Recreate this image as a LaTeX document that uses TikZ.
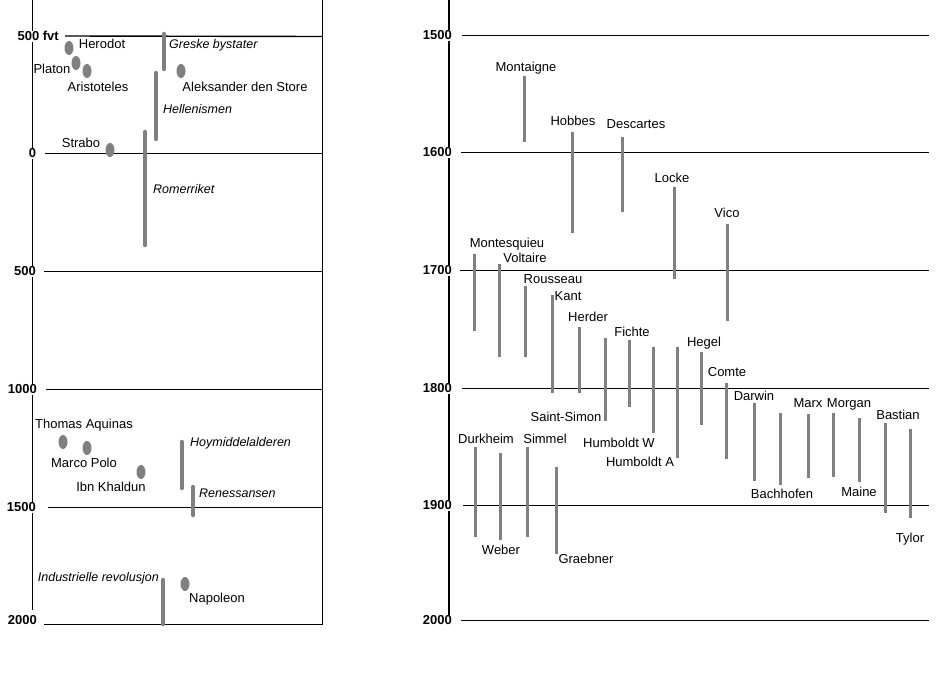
\documentclass[tikz,border=0pt]{standalone}
\usepackage{fontspec}
\setmainfont{Liberation Sans}
\definecolor{bargray}{HTML}{808080}
\begin{document}
\begin{tikzpicture}[x=1pt,y=-1pt,
  txt/.style={font=\fontsize{13}{15}\selectfont, inner sep=0pt, text height=9pt, text depth=0pt},
  itxt/.style={font=\fontsize{12.5}{14}\selectfont\itshape, inner sep=0pt, text height=9pt, text depth=0pt},
  axlab/.style={font=\fontsize{13}{15}\selectfont\bfseries, fill=white, inner sep=1pt, text height=9pt, text depth=0pt, anchor=east},
  axline/.style={line width=1.4pt, black},
  vaxis/.style={line width=1.6pt, black},
  lbar/.style={draw=bargray, line width=4.5pt, line cap=round},
  rbar/.style={draw=bargray, line width=3pt},
  dotmark/.style={fill=bargray}]
\useasboundingbox (0,0) rectangle (939,672);

% ---------------- left panel ----------------
\draw[vaxis] (322.5,0) -- (322.5,625);
\coordinate (LA0) at (32.5,0);
\coordinate (LA1) at (32.5,610);
\draw[vaxis] (LA0) -- (LA1);
\node[axlab] (L1) at (60,36) {500 fvt};
\node[axlab, anchor=center] (L2) at (32.5,153) {0};
\node[axlab] (L3) at (37,271) {500};
\node[axlab] (L4) at (38,389) {1000};
\node[axlab] (L5) at (37,507) {1500};
\node[axlab] (L6) at (38,620) {2000};
\draw[axline] ([xshift=5pt]L1.east) -- (322.5,36.5);
\draw[axline] (45,153.5) -- (322.5,153.5);
\draw[axline] (44,271.5) -- (322.5,271.5);
\draw[axline] (46,389.5) -- (322.5,389.5);
\draw[axline] (48,507.5) -- (322.5,507.5);
\draw[axline] (44,624.5) -- (322.5,624.5);

% bars
\draw[lbar] (164,34) -- (164,69);
\draw[lbar] (156,73) -- (156,139);
\draw[lbar] (145,132) -- (145,245);
\draw[lbar] (182,442) -- (182,488);
\draw[lbar] (193,487) -- (193,515);
\draw[lbar] (163,580) -- (163,624);

% dots
\fill[dotmark] (69,48) ellipse [x radius=4.5pt, y radius=7pt];
\fill[dotmark] (76,63) ellipse [x radius=4.5pt, y radius=7pt];
\fill[dotmark] (87,71) ellipse [x radius=4.5pt, y radius=7pt];
\fill[dotmark] (181,71) ellipse [x radius=4.5pt, y radius=7pt];
\fill[dotmark] (110,150) ellipse [x radius=4.5pt, y radius=7pt];
\fill[dotmark] (63,442) ellipse [x radius=4.5pt, y radius=7pt];
\fill[dotmark] (87,448) ellipse [x radius=4.5pt, y radius=7pt];
\fill[dotmark] (141,472) ellipse [x radius=4.5pt, y radius=7pt];
\fill[dotmark] (185,584) ellipse [x radius=4.5pt, y radius=7pt];

% labels
\node[txt] (herodot) at (102,44) {Herodot};
\node[txt] (platon) at (52,69) {Platon};
\node[txt] (aristoteles) at (98,87) {Aristoteles};
\node[txt] (aleksander) at (245,87) {Aleksander den Store};
\node[txt] (strabo) at (81,143) {Strabo};
\node[itxt, anchor=west] (greske) at (169,44) {Greske bystater};
\node[itxt, anchor=west] (hellenismen) at (163,109) {Hellenismen};
\node[itxt, anchor=west] (romerriket) at (153,189) {Romerriket};
\node[txt] (aquinas) at (84,424) {Thomas Aquinas};
\node[txt] (polo) at (84,463) {Marco Polo};
\node[txt] (khaldun) at (111,487) {Ibn Khaldun};
\node[itxt, anchor=west] (hoym) at (190,442) {Hoymiddelalderen};
\node[itxt, anchor=west] (renes) at (199,493) {Renessansen};
\node[itxt, anchor=east] (indrev) at (159,577) {Industrielle revolusjon};
\node[txt] (napoleon) at (217,598) {Napoleon};

% ---------------- right panel ----------------
\coordinate (RA0) at (449,0);
\coordinate (RA1) at (449,626);
\draw[vaxis] (RA0) -- (RA1);
\node[axlab] (R1) at (453,35) {1500};
\node[axlab] (R2) at (453,152) {1600};
\node[axlab] (R3) at (453,270) {1700};
\node[axlab] (R4) at (453,388) {1800};
\node[axlab] (R5) at (453,505) {1900};
\node[axlab] (R6) at (453,620) {2000};
\draw[axline] (462,35.5) -- (929,35.5);
\draw[axline] (461,152.5) -- (929,152.5);
\draw[axline] (460,270.5) -- (929,270.5);
\draw[axline] (462,388.5) -- (929,388.5);
\draw[axline] (463,505.5) -- (929,505.5);
\draw[axline] (461,620.5) -- (929,620.5);

% bars
\draw[rbar] (524,76) -- (524,142);
\draw[rbar] (572,132) -- (572,233);
\draw[rbar] (622,137) -- (622,212);
\draw[rbar] (674,187) -- (674,279);
\draw[rbar] (727,224) -- (727,321);
\draw[rbar] (474,254) -- (474,331);
\draw[rbar] (499,264) -- (499,357);
\draw[rbar] (525,286) -- (525,357);
\draw[rbar] (552,295) -- (552,393);
\draw[rbar] (579,327) -- (579,393);
\draw[rbar] (605,338) -- (605,421);
\draw[rbar] (629,340) -- (629,407);
\draw[rbar] (653,347) -- (653,433);
\draw[rbar] (677,347) -- (677,458);
\draw[rbar] (701,352) -- (701,425);
\draw[rbar] (726,383) -- (726,459);
\draw[rbar] (754,403) -- (754,481);
\draw[rbar] (780,413) -- (780,485);
\draw[rbar] (808,414) -- (808,478);
\draw[rbar] (833,413) -- (833,477);
\draw[rbar] (859,418) -- (859,482);
\draw[rbar] (885,423) -- (885,513);
\draw[rbar] (910,429) -- (910,518);
\draw[rbar] (475,447) -- (475,537);
\draw[rbar] (500,453) -- (500,540);
\draw[rbar] (527,447) -- (527,537);
\draw[rbar] (556,467) -- (556,554);

% labels
\node[txt] (montaigne) at (526,67) {Montaigne};
\node[txt] (hobbes) at (573,121) {Hobbes};
\node[txt] (descartes) at (636,124) {Descartes};
\node[txt] (locke) at (672,178) {Locke};
\node[txt] (vico) at (727,213) {Vico};
\node[txt] (montesquieu) at (507,243) {Montesquieu};
\node[txt] (voltaire) at (525,258) {Voltaire};
\node[txt] (rousseau) at (553,279) {Rousseau};
\node[txt] (kant) at (568,296) {Kant};
\node[txt] (herder) at (588,317) {Herder};
\node[txt] (fichte) at (632,332) {Fichte};
\node[txt] (hegel) at (704,342) {Hegel};
\node[txt] (comte) at (727,372) {Comte};
\node[txt] (darwin) at (754,396) {Darwin};
\node[txt] (marx) at (808,403) {Marx};
\node[txt] (morgan) at (849,403) {Morgan};
\node[txt] (bastian) at (898,415) {Bastian};
\node[txt] (saintsimon) at (566,417) {Saint-Simon};
\node[txt] (durkheim) at (486,439) {Durkheim};
\node[txt] (simmel) at (545,439) {Simmel};
\node[txt] (humboldtw) at (619,443) {Humboldt W};
\node[txt] (humboldta) at (640,462) {Humboldt A};
\node[txt] (maine) at (859,492) {Maine};
\node[txt] (bachhofen) at (782,494) {Bachhofen};
\node[txt] (weber) at (501,550) {Weber};
\node[txt] (graebner) at (586,559) {Graebner};
\node[txt] (tylor) at (910,538) {Tylor};
\end{tikzpicture}
\end{document}
